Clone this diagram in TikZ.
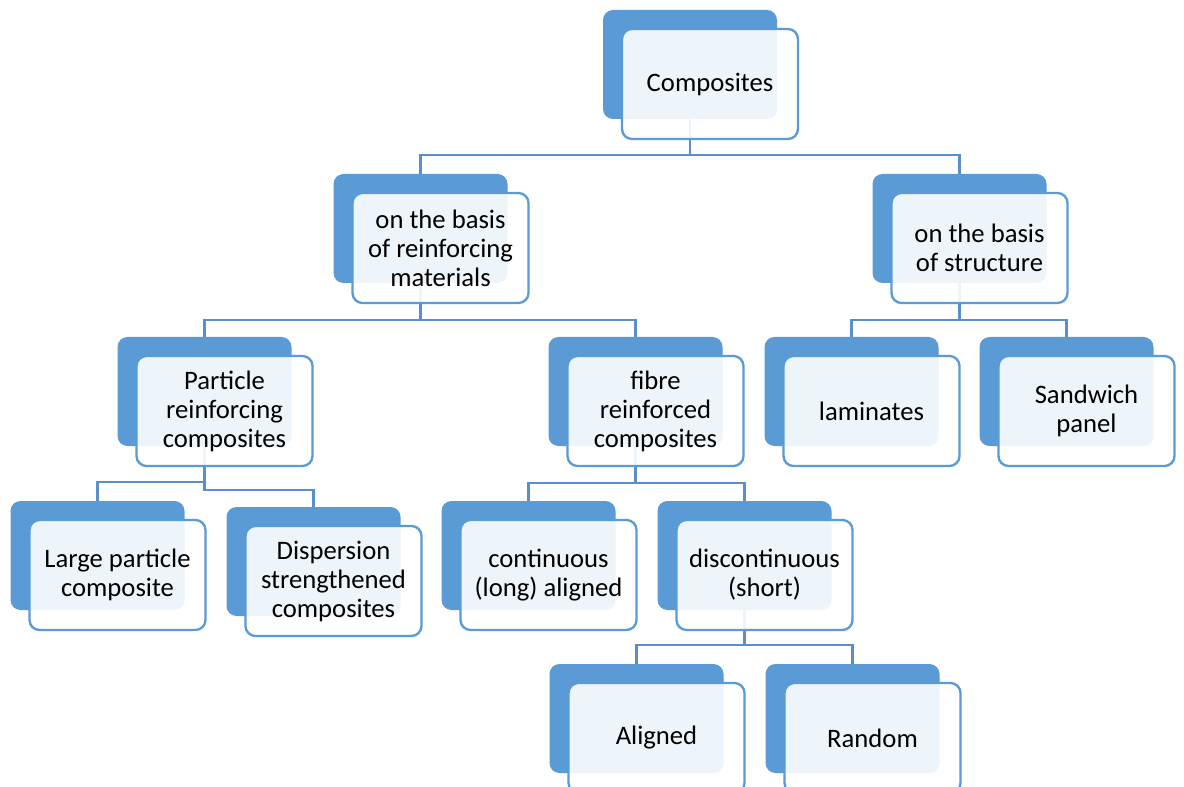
\documentclass[tikz,border=0pt]{standalone}
\usepackage{fontspec}
\setmainfont{Carlito}
\definecolor{accent}{HTML}{5B9BD5}
\definecolor{connc}{HTML}{5A8FCB}
\begin{document}
\begin{tikzpicture}[x=0.75pt,y=-0.75pt,
  backbox/.style={draw=none, fill=accent, rounded corners=7.5pt,
    minimum width=130.5pt, minimum height=81.75pt, inner sep=0pt},
  frontbox/.style={draw=accent, line width=1.75pt, fill=white, fill opacity=0.9,
    text opacity=1, rounded corners=7.5pt, minimum width=132pt,
    minimum height=82.5pt, inner sep=0pt, align=center,
    font=\fontsize{20}{21.75}\selectfont},
  connector/.style={draw=connc, line width=1.9pt}]
\useasboundingbox (0,0) rectangle (1184,787);
\clip (0,0) rectangle (1184,787);
\fill[white] (0,0) rectangle (1184,787);

% back boxes
\node[backbox] (compB)   at (690,64.5) {};
\node[backbox] (reinfB)  at (420.5,228.5) {};
\node[backbox] (structB) at (959.5,228.5) {};
\node[backbox] (partB)   at (204.5,391.5) {};
\node[backbox] (fibreB)  at (635.5,391.5) {};
\node[backbox] (lamB)    at (851.5,391.5) {};
\node[backbox] (sandB)   at (1066.5,391.5) {};
\node[backbox] (largeB)  at (97.5,555.5) {};
\node[backbox] (dispB)   at (313.5,561.5) {};
\node[backbox] (contB)   at (528.5,555.5) {};
\node[backbox] (discB)   at (744.5,555.5) {};
\node[backbox] (alignB)  at (636.5,718.5) {};
\node[backbox] (randB)   at (852.5,718.5) {};

% elbow levels
\coordinate (l1) at (0,155);
\coordinate (l2) at (0,320);
\coordinate (l3a) at (0,482);
\coordinate (l3b) at (0,490);
\coordinate (l3c) at (0,483);
\coordinate (l4) at (0,645);

% connectors
\draw[connector] (compB.south) -- (compB.south |- l1) -| (reinfB.north);
\draw[connector] (compB.south |- l1) -| (structB.north);
\draw[connector] (reinfB.south) -- (reinfB.south |- l2) -| (partB.north);
\draw[connector] (reinfB.south |- l2) -| (fibreB.north);
\draw[connector] (structB.south) -- (structB.south |- l2) -| (lamB.north);
\draw[connector] (structB.south |- l2) -| (sandB.north);
\draw[connector] (partB.south) -- (partB.south |- l3b) -| (dispB.north);
\draw[connector] (partB.south |- l3a) -| (largeB.north);
\draw[connector] (fibreB.south) -- (fibreB.south |- l3c) -| (contB.north);
\draw[connector] (fibreB.south |- l3c) -| (discB.north);
\draw[connector] (discB.south) -- (discB.south |- l4) -| (alignB.north);
\draw[connector] (discB.south |- l4) -| (randB.north);

% front boxes
\node[frontbox] (comp)   at ([shift={(20,19.5)}]compB.center) {Composites};
\node[frontbox] (reinf)  at ([shift={(20,19.5)}]reinfB.center) {on the basis\\of reinforcing\\materials};
\node[frontbox] (struct) at ([shift={(20,19.5)}]structB.center) {on the basis\\of structure};
\node[frontbox] (part)   at ([shift={(20,19.5)}]partB.center) {Particle\\reinforcing\\composites};
\node[frontbox] (fibre)  at ([shift={(20,19.5)}]fibreB.center) {fibre\\reinforced\\composites};
\node[frontbox] (lam)    at ([shift={(20,19.5)}]lamB.center) {laminates};
\node[frontbox] (sand)   at ([shift={(20,19.5)}]sandB.center) {Sandwich\\panel};
\node[frontbox] (large)  at ([shift={(20,19.5)}]largeB.center) {Large particle\\composite};
\node[frontbox] (disp)   at ([shift={(20,19.5)}]dispB.center) {Dispersion\\strengthened\\composites};
\node[frontbox] (cont)   at ([shift={(20,19.5)}]contB.center) {continuous\\(long) aligned};
\node[frontbox] (disc)   at ([shift={(20,19.5)}]discB.center) {discontinuous\\(short)};
\node[frontbox] (align)  at ([shift={(20,19.5)}]alignB.center) {Aligned};
\node[frontbox] (rand)   at ([shift={(20,19.5)}]randB.center) {Random};
\end{tikzpicture}
\end{document}
